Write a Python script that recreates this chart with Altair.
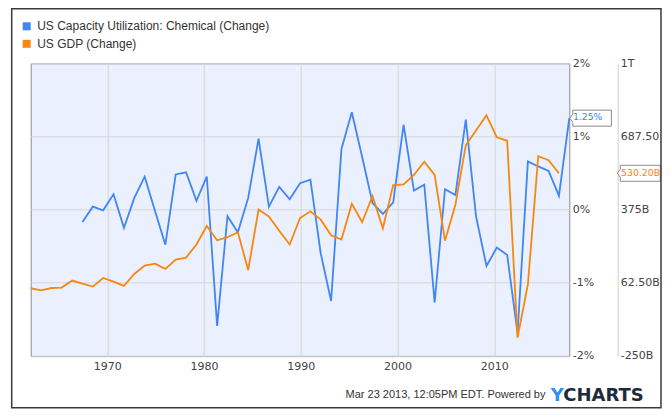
import altair as alt
import pandas as pd

# ---------------- data ----------------
years = [1962.08, 1963.15, 1964.22, 1965.29, 1966.36, 1967.43, 1968.50, 1969.57,
         1970.64, 1971.72, 1972.79, 1973.86, 1974.93, 1976.00, 1977.07, 1978.14,
         1979.21, 1980.28, 1981.35, 1982.42, 1983.49, 1984.56, 1985.63, 1986.70,
         1987.77, 1988.85, 1989.92, 1990.99, 1992.06, 1993.13, 1994.20, 1995.27,
         1996.34, 1997.41, 1998.48, 1999.55, 2000.62, 2001.69, 2002.76, 2003.83,
         2004.90, 2005.98, 2007.05, 2008.12, 2009.19, 2010.26, 2011.33, 2012.40,
         2013.47, 2014.54, 2015.61, 2016.68, 2017.75]

blue_name = "US Capacity Utilization: Chemical (Change)"
gdp_name = "US GDP (Change)"
series_names = [blue_name, gdp_name]

# capacity utilization change (%), starts at the 6th date
blue_values = [-0.17, 0.04, -0.01, 0.21, -0.25, 0.16, 0.45, -0.02, -0.48, 0.48,
               0.51, 0.12, 0.45, -1.59, -0.09, -0.31, 0.16, 0.97, 0.04, 0.31,
               0.14, 0.36, 0.41, -0.60, -1.25, 0.83, 1.33, 0.72, 0.09, -0.06,
               0.10, 1.16, 0.26, 0.34, -1.27, 0.28, 0.20, 1.23, -0.10, -0.77,
               -0.52, -0.62, -1.69, 0.66, 0.59, 0.53, 0.19, 1.25]

# GDP change (billions), starts at the 1st date
gdp_values = [39, 30, 40, 42, 72, 59, 46, 83, 67, 49, 100, 136, 144, 122, 161,
              170, 226, 305, 244, 257, 278, 117, 375, 346, 285, 226, 339, 368,
              332, 265, 247, 400, 321, 433, 295, 480, 483, 523, 580, 523, 242,
              396, 650, 714, 778, 684, 669, -172, 56, 603, 586, 530.2]

year_ticks = [1970, 1980, 1990, 2000, 2010]
pct_ticks = [-2, -1, 0, 1, 2]
pct_labels = ["-2%", "-1%", "0%", "1%", "2%"]
gdp_ticks = [-250, 62.5, 375, 687.5, 1000]
gdp_labels = ["-250B", "62.50B", "375B", "687.50", "1T"]

footer_text = "Mar 23 2013, 12:05PM EDT.  Powered by"
logo_first = "Y"
logo_rest = "CHARTS"

# ---------------- styling ----------------
BLUE = "#4285f4"
ORANGE = "#f7870f"
W, H = 538.6, 292.6
AX_FONT = "DejaVu Sans"
TXT_FONT = "Liberation Sans"


def label_expr(ticks, labels):
    parts = " : ".join(f"datum.value == {t} ? '{l}'" for t, l in zip(ticks, labels))
    return parts + " : ''"


blue_df = pd.DataFrame({"year": years[5:5 + len(blue_values)], "value": blue_values})
gdp_df = pd.DataFrame({"year": years[:len(gdp_values)], "value": gdp_values})
legend_df = pd.DataFrame({"series": series_names})

blue_last = blue_df.tail(1).copy()
blue_last["label"] = blue_last["value"].map(lambda v: f"{v:.2f}%")
gdp_last = gdp_df.tail(1).copy()
gdp_last["label"] = gdp_last["value"].map(lambda v: f"{v:.2f}B")

x_enc = alt.X(
    "year:Q",
    scale=alt.Scale(domain=[years[0], years[-1]], nice=False, zero=False),
    axis=alt.Axis(values=year_ticks, format="d", title=None, domain=False, ticks=False,
                  grid=True, gridColor="#d6d6d6", labelPadding=5, labelFont=AX_FONT,
                  labelFontSize=11, labelColor="#444"),
)

y_blue = alt.Y(
    "value:Q",
    scale=alt.Scale(domain=[-2, 2], nice=False, zero=False),
    axis=alt.Axis(orient="right", values=pct_ticks, labelExpr=label_expr(pct_ticks, pct_labels),
                  title=None, domain=False, ticks=False, grid=True, gridColor="#d6d6d6",
                  labelPadding=3, labelFont=AX_FONT, labelFontSize=11, labelColor="#444",
                  labelAlign="left"),
)

y_gdp = alt.Y(
    "value:Q",
    scale=alt.Scale(domain=[-250, 1000], nice=False, zero=False),
    axis=alt.Axis(orient="right", offset=48.4, values=gdp_ticks,
                  labelExpr=label_expr(gdp_ticks, gdp_labels), title=None, domain=True,
                  domainColor="#d0d0d0", ticks=False, grid=False, labelPadding=2.5,
                  labelFont=AX_FONT, labelFontSize=11, labelColor="#444", labelAlign="left"),
)

color_scale = alt.Scale(domain=series_names, range=[BLUE, ORANGE])
legend = alt.Legend(
    orient="none", legendX=-10, legendY=-43, title=None, symbolType="square",
    symbolSize=64, symbolStrokeWidth=0, symbolOpacity=1, labelFont=TXT_FONT,
    labelFontSize=12, labelColor="#333", labelOffset=4.5, rowPadding=5.5, padding=0,
    labelLimit=600,
)

blue_line = alt.Chart(blue_df).mark_line(strokeWidth=1.8, color=BLUE).encode(x=x_enc, y=y_blue)
gdp_line = alt.Chart(gdp_df).mark_line(strokeWidth=1.8, color=ORANGE).encode(x=x_enc, y=y_gdp)

# callout boxes with a left notch
half_b = 20.8
nb = 3 / half_b
hb = 8 / half_b
path_b = (f"M -1 0 L {-1 + nb:.3f} {-hb / 2:.3f} L {-1 + nb:.3f} {-hb:.3f} L 1 {-hb:.3f} "
          f"L 1 {hb:.3f} L {-1 + nb:.3f} {hb:.3f} L {-1 + nb:.3f} {hb / 2:.3f} Z")
half_g = 21.5
ng = 3 / half_g
hg = 8 / half_g
path_g = (f"M -1 0 L {-1 + ng:.3f} {-hg / 2:.3f} L {-1 + ng:.3f} {-hg:.3f} L 1 {-hg:.3f} "
          f"L 1 {hg:.3f} L {-1 + ng:.3f} {hg:.3f} L {-1 + ng:.3f} {hg / 2:.3f} Z")

CALLOUT_SIZE = 9.3

blue_box = alt.Chart(blue_last).mark_point(
    shape=path_b, size=(2 * half_b) ** 2, filled=True, fill="white", stroke="#8a8a8a",
    strokeWidth=1, opacity=1).encode(x=alt.value(W + 0.5 + half_b), y=y_blue)
blue_txt = alt.Chart(blue_last).mark_text(
    align="left", baseline="middle", font=AX_FONT, fontSize=CALLOUT_SIZE, color=BLUE,
    dy=-1).encode(x=alt.value(W + 3.6), y=y_blue, text="label:N")

gdp_box = alt.Chart(gdp_last).mark_point(
    shape=path_g, size=(2 * half_g) ** 2, filled=True, fill="white", stroke="#8a8a8a",
    strokeWidth=1, opacity=1).encode(x=alt.value(W + 48 + half_g), y=y_gdp)
gdp_txt = alt.Chart(gdp_last).mark_text(
    align="left", baseline="middle", font=AX_FONT, fontSize=CALLOUT_SIZE, color=ORANGE,
    dy=-0.5).encode(x=alt.value(W + 51.8), y=y_gdp, text="label:N")

blue_layer = alt.layer(blue_line, blue_box, blue_txt)
gdp_layer = alt.layer(gdp_line, gdp_box, gdp_txt)

legend_layer = alt.Chart(legend_df).mark_square(size=64, opacity=0).encode(
    x=alt.value(0), y=alt.value(0),
    color=alt.Color("series:N", scale=color_scale, legend=legend, sort=series_names))

one = pd.DataFrame({"a": [0]})
frame = alt.Chart(one).mark_rect(fillOpacity=0, stroke="#3a3a3a", strokeWidth=1.5).encode(
    x=alt.value(-19), x2=alt.value(630.3), y=alt.value(-54.5), y2=alt.value(344.4))
footer = alt.Chart(one).mark_text(
    align="right", baseline="alphabetic", font=TXT_FONT, fontSize=11, color="#333").encode(
    x=alt.value(514.8), y=alt.value(334.2), text=alt.value(footer_text))
logo1 = alt.Chart(one).mark_text(
    align="left", baseline="alphabetic", font=AX_FONT, fontSize=18, fontWeight="bold",
    color="#2e8ff0").encode(x=alt.value(520), y=alt.value(337.7), text=alt.value(logo_first))
logo2 = alt.Chart(one).mark_text(
    align="left", baseline="alphabetic", font=AX_FONT, fontSize=18, fontWeight="bold",
    color="#1e2b3a").encode(x=alt.value(532.5), y=alt.value(337.7), text=alt.value(logo_rest))

chart = alt.layer(blue_layer, gdp_layer, legend_layer, frame, footer, logo1, logo2).resolve_scale(
    y="independent"
).properties(
    width=W, height=H,
    padding={"left": 22.7, "top": 55.3, "right": 655 - 22.7 - W, "bottom": 402 - 55.3 - H},
    autosize=alt.AutoSizeParams(type="none"),
    background="white",
).configure_view(fill="#eaf0fd", stroke="#8c8c8c", strokeWidth=1)

chart.save("out.html", embed_options={"renderer": "svg", "actions": False})
